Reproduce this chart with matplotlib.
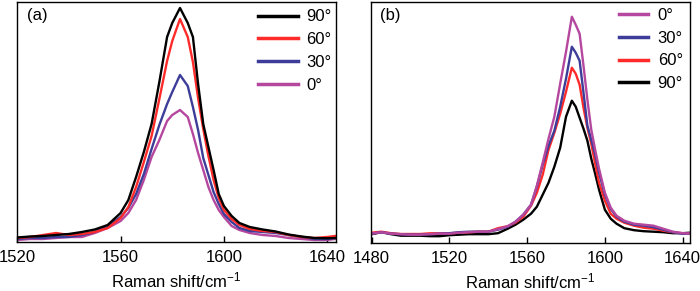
import matplotlib
matplotlib.use('Agg')
import matplotlib.pyplot as plt

plt.rcParams['font.family'] = ['Liberation Sans', 'DejaVu Sans']
plt.rcParams['mathtext.fontset'] = 'custom'
plt.rcParams['mathtext.rm'] = 'Liberation Sans'
plt.rcParams['mathtext.it'] = 'Liberation Sans:italic'

# panel (a)
shift_a = [1520, 1525, 1530, 1535, 1540, 1545, 1550, 1555, 1560, 1563, 1566, 1569,
           1572, 1575, 1578, 1580, 1583, 1586, 1588, 1590, 1592, 1594, 1596, 1598,
           1600, 1603, 1606, 1610, 1615, 1620, 1625, 1630, 1635, 1640, 1643]
a_90 = [4.5, 5.5, 6, 7, 8, 10, 12.5, 17, 29, 42, 65, 90, 118, 160, 205, 219, 234, 219,
        205, 158, 118, 95, 72, 48, 36, 26, 19, 15, 12.5, 10.5, 7.5, 5.5, 4, 3.7, 4]
a_60 = [4, 5, 7, 9, 7, 8, 10, 14, 24, 35, 55, 80, 106, 143, 181, 201, 223, 205,
        180, 144, 113, 86, 62, 44, 32, 23, 17, 13, 11, 10, 7, 5, 4, 5, 6]
a_30 = [3, 4, 4, 5, 5, 7, 10, 16, 25, 34, 48, 68, 93, 117, 138, 150, 167, 156,
        135, 112, 84, 67, 50, 38, 28, 20, 14, 11, 10, 9, 7, 5, 3, 3, 4]
a_0 = [2, 3, 3, 4, 5, 5, 9, 14, 21, 29, 42, 62, 85, 102, 121, 127, 132, 125,
       108, 89, 72, 55, 42, 32, 25, 16, 12, 9, 7, 6, 4, 3, 2, 2, 3]

# panel (b)
shift_b = [1480, 1485, 1490, 1495, 1500, 1505, 1510, 1515, 1520, 1525, 1530, 1535,
           1540, 1545, 1550, 1554, 1558, 1562, 1565, 1568, 1571, 1574, 1577, 1580,
           1583, 1585, 1587, 1589, 1591, 1593, 1595, 1597, 1600, 1603, 1606, 1610,
           1615, 1620, 1625, 1630, 1635, 1640, 1644]
b_0 = [9, 10.5, 9, 8.5, 8, 8, 8.5, 9, 9, 10, 10.5, 11, 11, 13.5, 16.5, 21, 28, 38,
       57, 80, 104, 126, 159, 191, 226, 218, 209, 177, 143, 113, 93, 74, 50, 35, 27,
       22, 19, 18, 17, 14, 11, 9.5, 9]
b_30 = [9, 10.5, 9, 8.5, 8, 8, 8.5, 9, 9.5, 10.5, 11, 11, 11, 13, 16, 21, 28, 38,
        56, 78, 97, 112, 136, 164, 196, 190, 182, 150, 117, 103, 88, 70, 48, 34, 26,
        21, 18, 17, 15.5, 13, 10.5, 9, 9]
b_60 = [10, 11, 9.5, 8.7, 8.7, 8.7, 9.4, 9.4, 9.4, 10, 10.4, 11, 11, 14.5, 16.5, 20,
        26, 37, 50, 68, 93, 110, 129, 151, 175, 169, 158, 135, 115, 99, 79, 60, 42,
        29, 24, 20, 17, 15, 14, 12, 10.5, 9.5, 9.5]
b_90 = [8.5, 10.5, 8.5, 7, 7, 7, 6.5, 6.5, 7.5, 8, 8.5, 8.5, 8.5, 9.5, 14, 18, 23, 29,
        36, 48, 60, 76, 95, 126, 142, 136, 125, 114, 102, 84, 69, 53, 33, 24, 19,
        14.5, 12.5, 11.5, 11, 10.5, 9.5, 9.5, 10]

labels = ['0°', '30°', '60°', '90°']
colors = ['#b5479f', '#3d3d99', '#ff2a2a', '#000000']

fig = plt.figure(figsize=(7, 2.91), dpi=100)
ax1 = fig.add_axes([0.0247, 0.1684, 0.4553, 0.8258])
ax2 = fig.add_axes([0.5296, 0.166, 0.4561, 0.828])

lines_a = []
for y, c, lab in zip([a_0, a_30, a_60, a_90], colors, labels):
    ln, = ax1.plot(shift_a, y, color=c, lw=1.7, label=lab)
    lines_a.append(ln)
lines_b = []
for y, c, lab in zip([b_90, b_60, b_30, b_0], colors[::-1], labels[::-1]):
    ln, = ax2.plot(shift_b, y, color=c, lw=1.7, label=lab)
    lines_b.append(ln)

ax1.set_xlim(1520, 1643.4)
ax1.set_ylim(0, 240.3)
ax1.set_xticks([1520, 1560, 1600, 1640])
ax2.set_xlim(1479.5, 1643.8)
ax2.set_ylim(0, 241)
ax2.set_xticks([1480, 1520, 1560, 1600, 1640])

leg1 = ax1.legend(lines_a[::-1], labels[::-1], loc='upper left',
                  bbox_to_anchor=(0.754, 0.968), frameon=False, fontsize=12,
                  handlelength=2.4, handletextpad=0.5, labelspacing=0.47,
                  borderpad=0, borderaxespad=0)
leg2 = ax2.legend(lines_b[::-1], labels, loc='upper left',
                  bbox_to_anchor=(0.7786, 0.975), frameon=False, fontsize=12,
                  handlelength=1.75, handletextpad=0.55, labelspacing=0.47,
                  borderpad=0, borderaxespad=0)
for leg in (leg1, leg2):
    for h in leg.legend_handles:
        h.set_linewidth(2.5)

for ax, tag in ((ax1, '(a)'), (ax2, '(b)')):
    ax.set_yticks([])
    ax.tick_params(axis='x', direction='in', length=4, width=1, labelsize=12, pad=6)
    for s in ax.spines.values():
        s.set_linewidth(1)
    ax.set_xlabel('Raman shift/cm$^{-1}$', fontsize=12, labelpad=4)
    ax.text(0.03, 0.975, tag, transform=ax.transAxes, fontsize=12, va='top', ha='left')

fig.savefig('out.png', dpi=100)
